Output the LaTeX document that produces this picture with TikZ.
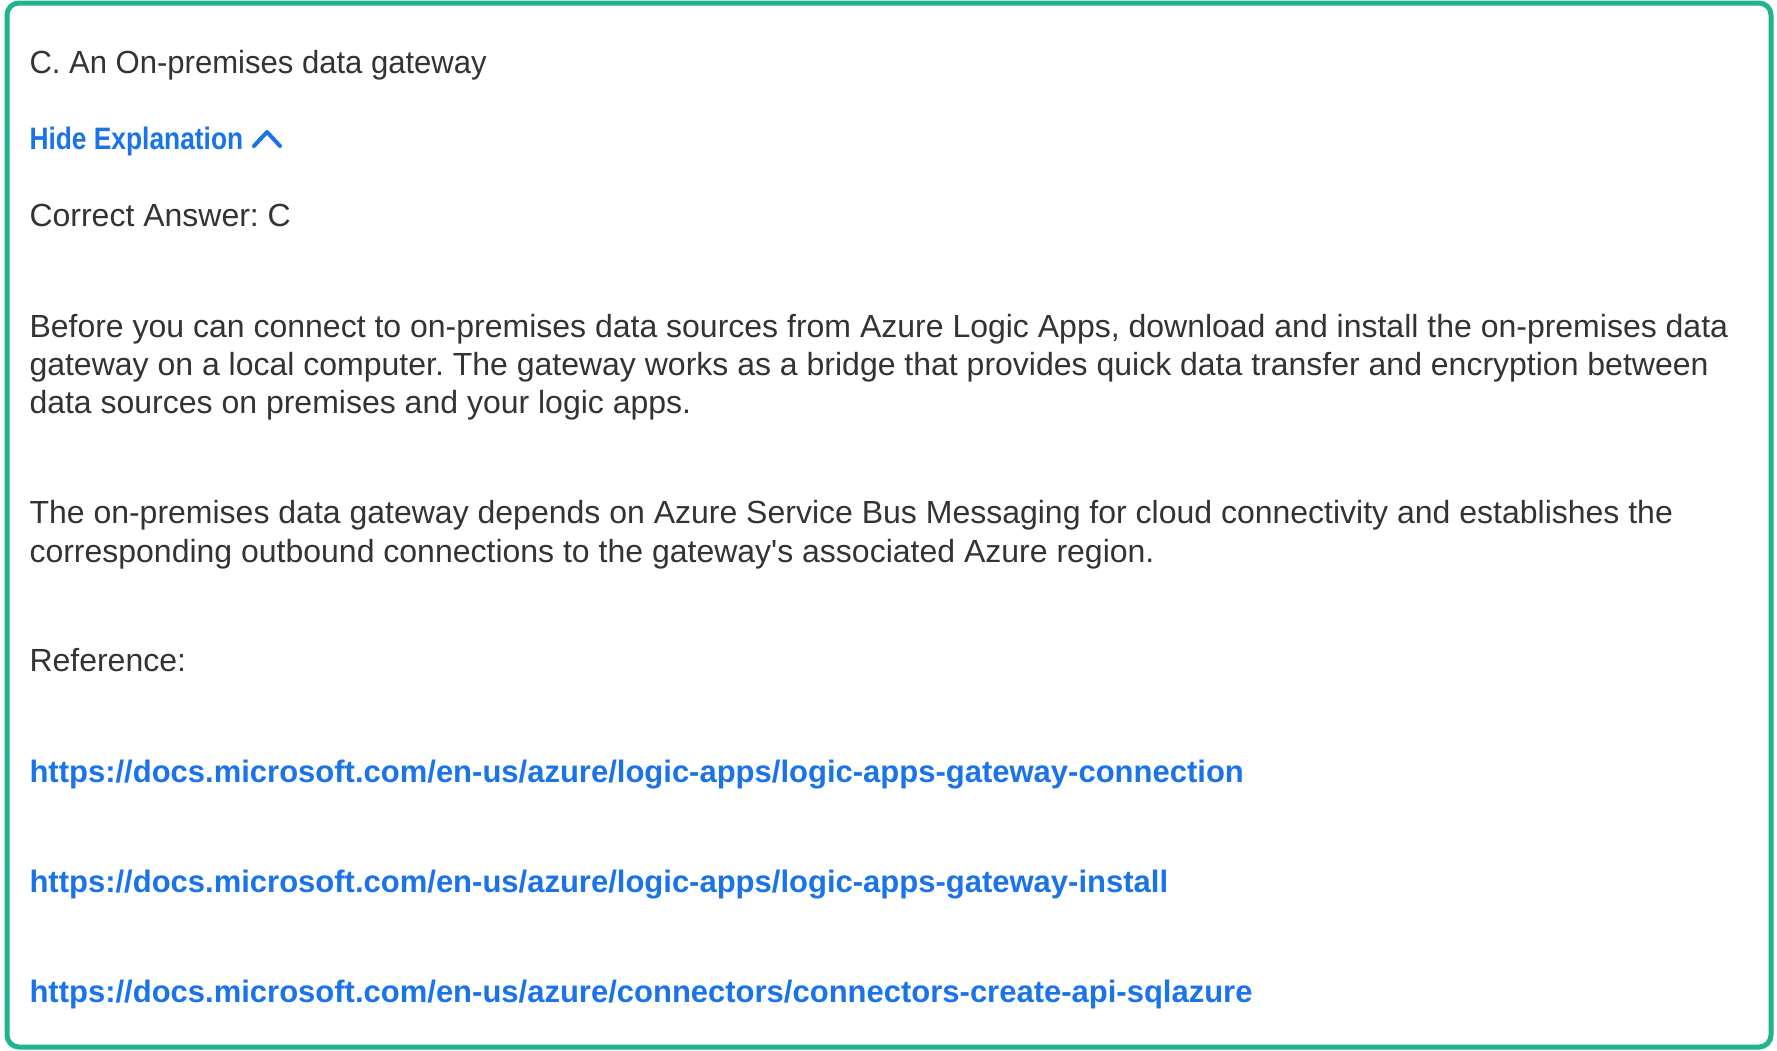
\documentclass[tikz,border=0pt]{standalone}
\usepackage{fontspec}
\setmainfont{Liberation Sans}
\usepackage{xcolor}
\definecolor{frameteal}{HTML}{1DB48F}
\definecolor{bodygray}{HTML}{333333}
\definecolor{linkblue}{HTML}{1A73E8}
\frenchspacing

\begin{document}
\begin{tikzpicture}[x=1pt, y=-1pt,
    every node/.style = {inner sep=0pt, outer sep=0pt, anchor=base west},
    txt/.style = {text=bodygray, font=\fontsize{32}{38}\selectfont},
    link/.style = {text=linkblue, font=\bfseries\fontsize{31}{38}\selectfont}]
  \useasboundingbox (0,0) rectangle (1777,1050);
  \fill[white] (0,0) rectangle (1777,1050);
  \draw[frameteal, line width=5pt, rounded corners=12pt] (7,3) rectangle (1771,1047);

  \node[txt] (answer) at (29.5,73) {\scalebox{0.97}[1]{C. An On-premises data gateway}};
  \node[link] (hide) at (29.5,149) {\scalebox{0.85}[1]{Hide Explanation}};
  \draw[linkblue, line width=4pt, line cap=round, line join=round]
    (254,146) -- (267,132) -- (280,146);
  \node[txt] (correct) at (29.5,226) {Correct Answer: C};

  \node[txt] (p1a) at (29.5,337) {Before you can connect to on-premises data sources from Azure Logic Apps, download and install the on-premises data};
  \node[txt] (p1b) at (29.5,375) {gateway on a local computer. The gateway works as a bridge that provides quick data transfer and encryption between};
  \node[txt] (p1c) at (29.5,413) {data sources on premises and your logic apps.};

  \node[txt] (p2a) at (29.5,523) {The on-premises data gateway depends on Azure Service Bus Messaging for cloud connectivity and establishes the};
  \node[txt] (p2b) at (29.5,562) {corresponding outbound connections to the gateway\textquotesingle s associated Azure region.};

  \node[txt] (ref) at (29.5,671) {Reference:};
  \node[link] (url1) at (29.5,782) {https://docs.microsoft.com/en-us/azure/logic-apps/logic-apps-gateway-connection};
  \node[link] (url2) at (29.5,892) {https://docs.microsoft.com/en-us/azure/logic-apps/logic-apps-gateway-install};
  \node[link] (url3) at (29.5,1002) {https://docs.microsoft.com/en-us/azure/connectors/connectors-create-api-sqlazure};
\end{tikzpicture}
\end{document}
